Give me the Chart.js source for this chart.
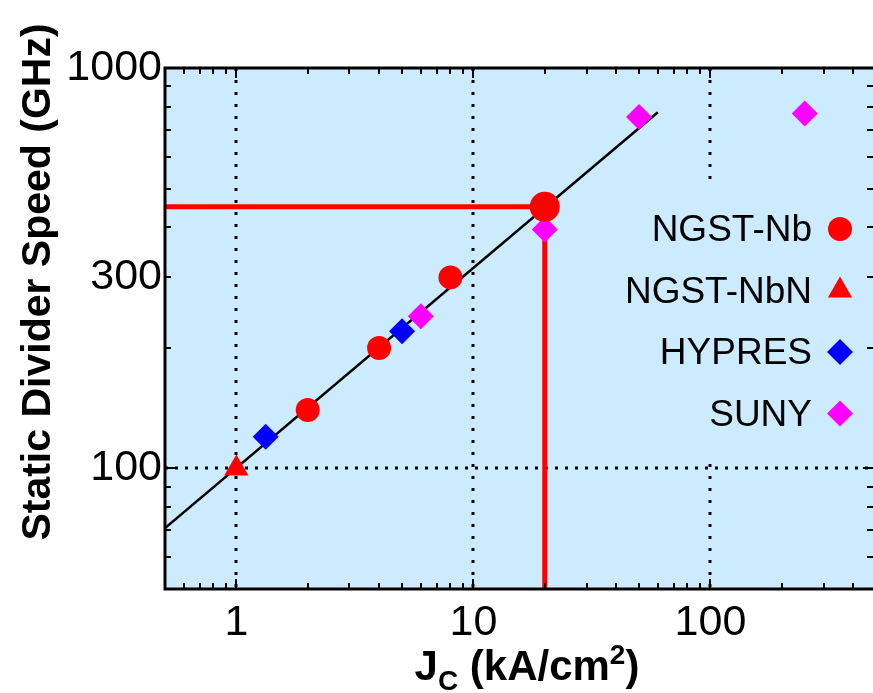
<!DOCTYPE html>
<html>
<head>
<meta charset="utf-8">
<script src="https://cdn.jsdelivr.net/npm/chart.js@4.4.1/dist/chart.umd.min.js"></script>
<style>
html, body { margin: 0; padding: 0; background: #fff; }
#wrap { width: 873px; height: 693px; }
</style>
</head>
<body>
<div id="wrap"><canvas id="grafico" width="873" height="693"></canvas></div>
<script>
// valores (Jc en kA/cm2, velocidad en GHz)
const lineaAjuste = [{x: 0.5, y: 71}, {x: 60, y: 775}];
const lineaRoja = [{x: 0.5, y: 450}, {x: 20, y: 450}, {x: 20, y: 50}];
const ngstNb = [{x: 2, y: 140}, {x: 4, y: 200}, {x: 8, y: 300}, {x: 20, y: 450}];
const ngstNbN = [{x: 1, y: 100}];
const hypres = [{x: 1.33, y: 120}, {x: 5, y: 220}];
const suny = [{x: 6, y: 240}, {x: 20, y: 395}, {x: 50, y: 755}, {x: 250, y: 770}];

const ticksX = [1, 10, 100];
const ticksY = [100, 300, 1000];
const gridX = [1, 10, 100];
const gridY = [100];
const rangoX = [0.5, 485];
const rangoY = [50, 1000];

const FONDO = 'rgb(204,235,255)';
const FUENTE = '"Liberation Sans", Arial, Helvetica, sans-serif';

// fondo, rejilla punteada y caja de la leyenda
const fondoPlugin = {
    id: 'fondo',
    beforeDatasetsDraw(chart) {
        const { ctx, chartArea: a, scales } = chart;
        ctx.save();
        ctx.fillStyle = FONDO;
        ctx.fillRect(a.left, a.top, a.right - a.left, a.bottom - a.top);

        ctx.strokeStyle = '#000';
        ctx.lineWidth = 3;
        ctx.setLineDash([3, 9]);
        gridX.forEach(v => {
            const px = Math.round(scales.x.getPixelForValue(v));
            ctx.beginPath();
            ctx.moveTo(px, a.top);
            ctx.lineTo(px, a.bottom);
            ctx.stroke();
        });
        ctx.setLineDash([3, 7]);
        gridY.forEach(v => {
            const py = Math.round(scales.y.getPixelForValue(v));
            ctx.beginPath();
            ctx.moveTo(a.left, py);
            ctx.lineTo(a.right, py);
            ctx.stroke();
        });
        ctx.setLineDash([]);

        // la leyenda tapa la rejilla
        ctx.fillStyle = FONDO;
        ctx.fillRect(600, 180, 262, 282);
        ctx.restore();
    },
    afterDatasetsDraw(chart) {
        const { ctx, chartArea: a, scales } = chart;
        ctx.save();
        ctx.strokeStyle = '#000';
        ctx.lineWidth = 2;

        // marcas menores hacia dentro
        for (let d = 0.1; d <= 1000; d *= 10) {
            for (let m = 1; m <= 9; m++) {
                const v = Math.round(m * d * 1000) / 1000;
                const largo = m === 1 ? 10 : 6;
                if (v >= rangoX[0] && v <= rangoX[1]) {
                    const px = Math.round(scales.x.getPixelForValue(v));
                    ctx.beginPath();
                    ctx.moveTo(px, a.bottom); ctx.lineTo(px, a.bottom - largo);
                    ctx.moveTo(px, a.top); ctx.lineTo(px, a.top + largo);
                    ctx.stroke();
                }
                if (v >= rangoY[0] && v <= rangoY[1]) {
                    const py = Math.round(scales.y.getPixelForValue(v));
                    ctx.beginPath();
                    ctx.moveTo(a.left, py); ctx.lineTo(a.left + largo, py);
                    ctx.moveTo(a.right, py); ctx.lineTo(a.right - largo, py);
                    ctx.stroke();
                }
            }
        }

        // ejes
        ctx.lineWidth = 3;
        ctx.beginPath();
        ctx.moveTo(a.right, a.top);
        ctx.lineTo(a.left, a.top);
        ctx.lineTo(a.left, a.bottom);
        ctx.lineTo(a.right, a.bottom);
        ctx.stroke();

        // leyenda: texto a la izquierda, marcador a la derecha
        ctx.font = '37px ' + FUENTE;
        ctx.textAlign = 'right';
        ctx.textBaseline = 'middle';
        let yLeyenda = 229;
        chart.data.datasets.filter(ds => ds.leyenda).forEach(ds => {
            ctx.fillStyle = '#000';
            ctx.fillText(ds.label, 812, yLeyenda + 2);
            ctx.fillStyle = ds.backgroundColor;
            Chart.helpers.drawPoint(ctx, {
                pointStyle: ds.pointStyle,
                rotation: 0,
                radius: ds.radioLeyenda,
                borderWidth: 0
            }, 840, yLeyenda);
            yLeyenda += 61.5;
        });
        ctx.restore();
    },
    afterDraw(chart) {
        const { ctx } = chart;
        ctx.save();
        ctx.fillStyle = '#000';
        ctx.textBaseline = 'alphabetic';

        // titulo eje y
        ctx.save();
        ctx.font = 'bold 41px ' + FUENTE;
        ctx.translate(50, 282);
        ctx.rotate(-Math.PI / 2);
        ctx.textAlign = 'center';
        ctx.fillText('Static Divider Speed (GHz)', 0, 0);
        ctx.restore();

        // titulo eje x con subindice y superindice
        const grande = 'bold 42px ' + FUENTE;
        const chico = 'bold 28px ' + FUENTE;
        const partes = [
            { t: 'J', f: grande, dy: 0 },
            { t: 'C', f: chico, dy: 10 },
            { t: ' (kA/cm', f: grande, dy: 0 },
            { t: '2', f: chico, dy: -16 },
            { t: ')', f: grande, dy: 0 }
        ];
        let ancho = 0;
        partes.forEach(p => { ctx.font = p.f; p.w = ctx.measureText(p.t).width; ancho += p.w; });
        let xt = 527 - ancho / 2;
        ctx.textAlign = 'left';
        partes.forEach(p => {
            ctx.font = p.f;
            ctx.fillText(p.t, xt, 680 + p.dy);
            xt += p.w;
        });
        ctx.restore();
    }
};

const ctx = document.getElementById('grafico').getContext('2d');

new Chart(ctx, {
    type: 'scatter',
    data: {
        datasets: [
            {
                label: 'NGST-Nb', data: ngstNb, leyenda: true, radioLeyenda: 12,
                pointStyle: 'circle', backgroundColor: '#ff0000', borderWidth: 0,
                pointRadius: [12, 12, 12, 15], order: 1
            },
            {
                label: 'NGST-NbN', data: ngstNbN, leyenda: true, radioLeyenda: 14,
                pointStyle: 'triangle', backgroundColor: '#ff0000', borderWidth: 0,
                pointRadius: 14, order: 1
            },
            {
                label: 'HYPRES', data: hypres, leyenda: true, radioLeyenda: 13,
                pointStyle: 'rectRot', backgroundColor: '#0000ff', borderWidth: 0,
                pointRadius: 13, order: 1
            },
            {
                label: 'SUNY', data: suny, leyenda: true, radioLeyenda: 13,
                pointStyle: 'rectRot', backgroundColor: '#ff00ff', borderWidth: 0,
                pointRadius: 13, order: 1
            },
            {
                label: 'guia', data: lineaRoja, type: 'line', showLine: true,
                borderColor: '#ff0000', borderWidth: 5, pointRadius: 0, fill: false, order: 5
            },
            {
                label: 'ajuste', data: lineaAjuste, type: 'line', showLine: true,
                borderColor: '#000', borderWidth: 2.5, pointRadius: 0, fill: false, order: 6
            }
        ]
    },
    options: {
        responsive: false,
        animation: false,
        devicePixelRatio: 1,
        layout: { autoPadding: false, padding: { top: 68, right: 0, left: 0, bottom: 0 } },
        plugins: { legend: { display: false }, tooltip: { enabled: false } },
        scales: {
            x: {
                type: 'logarithmic',
                min: rangoX[0], max: rangoX[1],
                grid: { display: false, drawTicks: false },
                border: { display: false },
                afterBuildTicks: s => { s.ticks = ticksX.map(v => ({ value: v })); },
                afterFit: s => { s.height = 104; s.paddingLeft = 0; s.paddingRight = 0; },
                ticks: {
                    autoSkip: false, maxRotation: 0, padding: 8, color: '#000',
                    font: { family: FUENTE, size: 43 },
                    callback: v => String(v)
                }
            },
            y: {
                type: 'logarithmic',
                min: rangoY[0], max: rangoY[1],
                grid: { display: false, drawTicks: false },
                border: { display: false },
                afterBuildTicks: s => { s.ticks = ticksY.map(v => ({ value: v })); },
                afterFit: s => { s.width = 165; s.paddingTop = 0; s.paddingBottom = 0; },
                ticks: {
                    autoSkip: false, padding: 3, color: '#000',
                    font: { family: FUENTE, size: 43 },
                    callback: v => String(v)
                }
            }
        }
    },
    plugins: [fondoPlugin]
});
</script>
</body>
</html>
